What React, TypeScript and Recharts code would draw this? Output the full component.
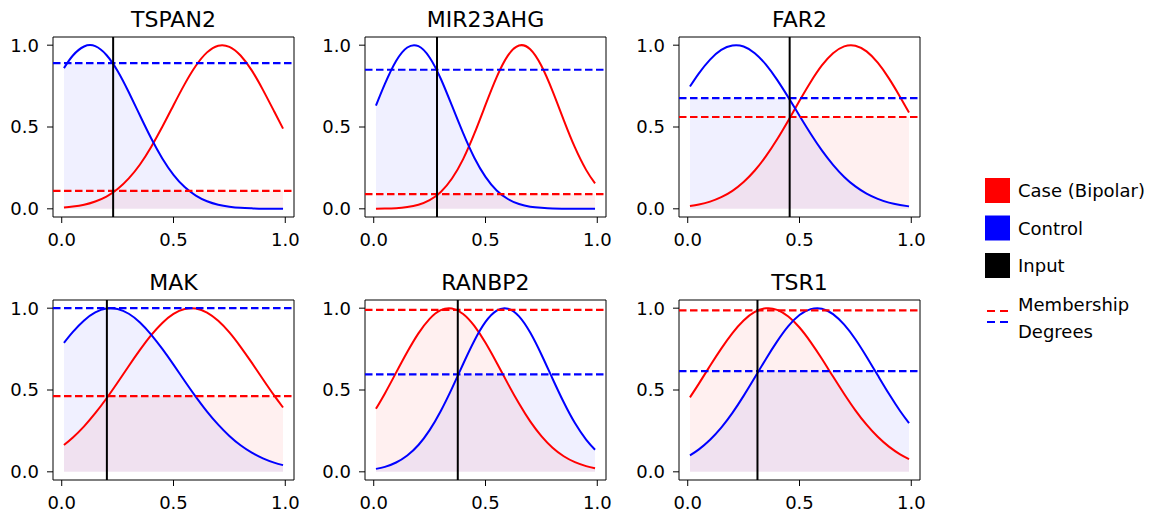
import React from 'react';
import { ComposedChart, Line, Area, XAxis, YAxis, ReferenceLine, ReferenceArea } from 'recharts';

// sample positions along the normalised expression axis
const xs = [0.01, 0.05, 0.1, 0.15, 0.2, 0.25, 0.3, 0.35, 0.4, 0.45, 0.5, 0.55, 0.6, 0.65, 0.7, 0.75, 0.8, 0.85, 0.9, 0.95, 0.99];

// membership curves
const tspan2Case = [0.008, 0.014, 0.025, 0.045, 0.075, 0.121, 0.186, 0.271, 0.378, 0.501, 0.633, 0.762, 0.874, 0.956, 0.997, 0.99, 0.937, 0.846, 0.727, 0.596, 0.49];
const tspan2Control = [0.86, 0.937, 0.992, 0.994, 0.94, 0.842, 0.712, 0.57, 0.431, 0.308, 0.208, 0.133, 0.081, 0.046, 0.025, 0.013, 0.006, 0.003, 0.001, 0.0005, 0.0002];
const mir23ahgCase = [0.0006, 0.0015, 0.004, 0.011, 0.025, 0.053, 0.103, 0.185, 0.304, 0.459, 0.635, 0.805, 0.936, 0.998, 0.975, 0.874, 0.719, 0.542, 0.375, 0.238, 0.155];
const mir23ahgControl = [0.63, 0.763, 0.903, 0.986, 0.994, 0.925, 0.795, 0.63, 0.462, 0.312, 0.195, 0.112, 0.06, 0.029, 0.013, 0.006, 0.002, 0.001, 0.0003, 0.0001, 0];
const far2Case = [0.017, 0.027, 0.044, 0.071, 0.11, 0.164, 0.234, 0.322, 0.425, 0.54, 0.66, 0.775, 0.876, 0.951, 0.993, 0.997, 0.962, 0.893, 0.797, 0.684, 0.588];
const far2Control = [0.747, 0.828, 0.912, 0.971, 0.998, 0.992, 0.951, 0.881, 0.788, 0.681, 0.569, 0.459, 0.357, 0.269, 0.195, 0.137, 0.093, 0.061, 0.038, 0.024, 0.015];
const makCase = [0.164, 0.21, 0.278, 0.358, 0.448, 0.546, 0.647, 0.745, 0.835, 0.91, 0.965, 0.995, 0.998, 0.973, 0.923, 0.852, 0.764, 0.667, 0.566, 0.467, 0.393];
const makControl = [0.788, 0.855, 0.925, 0.974, 0.998, 0.995, 0.966, 0.913, 0.839, 0.751, 0.655, 0.555, 0.458, 0.368, 0.288, 0.219, 0.162, 0.117, 0.082, 0.056, 0.041];
const ranbp2Case = [0.385, 0.479, 0.606, 0.732, 0.846, 0.935, 0.988, 0.998, 0.965, 0.892, 0.789, 0.667, 0.539, 0.417, 0.308, 0.218, 0.147, 0.095, 0.059, 0.035, 0.022];
const ranbp2Control = [0.018, 0.03, 0.057, 0.1, 0.164, 0.255, 0.372, 0.51, 0.659, 0.801, 0.916, 0.985, 0.997, 0.95, 0.851, 0.717, 0.569, 0.425, 0.298, 0.197, 0.135];
const tsr1Case = [0.455, 0.539, 0.648, 0.753, 0.848, 0.925, 0.977, 0.999, 0.99, 0.949, 0.882, 0.793, 0.691, 0.582, 0.476, 0.376, 0.288, 0.214, 0.154, 0.107, 0.078];
const tsr1Control = [0.1, 0.137, 0.196, 0.27, 0.36, 0.464, 0.576, 0.69, 0.797, 0.89, 0.958, 0.994, 0.997, 0.964, 0.899, 0.81, 0.703, 0.59, 0.477, 0.372, 0.298];

const titles = ['TSPAN2', 'MIR23AHG', 'FAR2', 'MAK', 'RANBP2', 'TSR1'];
const inputs = [0.23, 0.283, 0.456, 0.202, 0.376, 0.312];
const caseDegrees = [0.11, 0.09, 0.561, 0.463, 0.99, 0.986];
const controlDegrees = [0.89, 0.85, 0.676, 1.0, 0.596, 0.615];
const caseCurves = [tspan2Case, mir23ahgCase, far2Case, makCase, ranbp2Case, tsr1Case];
const controlCurves = [tspan2Control, mir23ahgControl, far2Control, makControl, ranbp2Control, tsr1Control];
const xTicks = [0, 0.5, 1];
const yTicks = [0, 0.5, 1];

const legendItems = ['Case (Bipolar)', 'Control', 'Input'];
const legendColors = ['#ff0000', '#0000ff', '#000000'];

const FONT = '"DejaVu Sans", sans-serif';
const RED = '#ff0000';
const BLUE = '#0000ff';
const colLefts = [53, 365, 679];
const rowTops = [37, 300];
const PLOT_W = 241;
const PLOT_H = 180;
const Y_W = 53;
const X_H = 40;
const PAD = 2;
const RIGHT = 24;
const DASH = '7.5 3.5';

function Panel({ i }: { i: number }) {
  const data = xs.map((x, k) => ({
    x,
    case: caseCurves[i][k],
    control: controlCurves[i][k],
    caseFill: Math.min(caseCurves[i][k], caseDegrees[i]),
    controlFill: Math.min(controlCurves[i][k], controlDegrees[i]),
  }));
  const tickStyle = { fontSize: 18, fill: '#000', fontFamily: FONT };
  return (
    <div style={{ position: 'absolute', left: colLefts[i % 3] - Y_W, top: rowTops[Math.floor(i / 3)] - PAD }}>
      <ComposedChart
        width={Y_W + PLOT_W + RIGHT}
        height={PAD + PLOT_H + X_H}
        data={data}
        margin={{ top: PAD, right: RIGHT, left: 0, bottom: 0 }}
      >
        <XAxis
          dataKey="x"
          type="number"
          domain={[-0.039, 1.039]}
          allowDataOverflow
          ticks={xTicks}
          interval={0}
          tickFormatter={(v: number) => v.toFixed(1)}
          height={X_H}
          tickSize={6}
          tickMargin={10}
          axisLine={false}
          tickLine={{ stroke: '#000' }}
          tick={tickStyle}
        />
        <YAxis
          type="number"
          domain={[-0.05, 1.05]}
          allowDataOverflow
          ticks={yTicks}
          interval={0}
          tickFormatter={(v: number) => v.toFixed(1)}
          width={Y_W}
          tickSize={6}
          tickMargin={8}
          axisLine={false}
          tickLine={{ stroke: '#000' }}
          tick={tickStyle}
        />
        <Area dataKey="controlFill" type="monotone" baseValue={0} fill={BLUE} fillOpacity={0.06} stroke="none" isAnimationActive={false} />
        <Area dataKey="caseFill" type="monotone" baseValue={0} fill={RED} fillOpacity={0.06} stroke="none" isAnimationActive={false} />
        <Line dataKey="case" type="natural" stroke={RED} strokeWidth={2} dot={false} isAnimationActive={false} />
        <Line dataKey="control" type="natural" stroke={BLUE} strokeWidth={2} dot={false} isAnimationActive={false} />
        <ReferenceLine y={caseDegrees[i]} stroke={RED} strokeWidth={2.2} strokeDasharray={DASH} />
        <ReferenceLine y={controlDegrees[i]} stroke={BLUE} strokeWidth={2.2} strokeDasharray={DASH} />
        <ReferenceLine x={inputs[i]} stroke="#000" strokeWidth={2} />
        <ReferenceArea x1={-0.039} x2={1.039} y1={-0.05} y2={1.05} fill="none" fillOpacity={0} stroke="#000" strokeWidth={1} />
      </ComposedChart>
    </div>
  );
}

export default function App() {
  return (
    <div style={{ position: 'absolute', left: 0, top: 0, width: 1165, height: 514, background: '#fff', fontFamily: FONT }}>
      {titles.map((t, i) => (
        <Panel key={t} i={i} />
      ))}
      <svg width={1165} height={514} style={{ position: 'absolute', left: 0, top: 0, pointerEvents: 'none' }}>
        {titles.map((t, i) => (
          <text
            key={t}
            x={colLefts[i % 3] + PLOT_W / 2}
            y={rowTops[Math.floor(i / 3)] - 10}
            textAnchor="middle"
            fontSize={22}
            fontFamily={FONT}
            fill="#000"
          >
            {t}
          </text>
        ))}
        {legendItems.map((label, k) => (
          <g key={label}>
            <rect x={985} y={178 + k * 37.5} width={25} height={25} fill={legendColors[k]} />
            <text x={1018} y={197 + k * 37.5} fontSize={18} fontFamily={FONT} fill="#000">
              {label}
            </text>
          </g>
        ))}
        <line x1={987} x2={1010} y1={311} y2={311} stroke={RED} strokeWidth={2} strokeDasharray="8 5" />
        <line x1={987} x2={1010} y1={322} y2={322} stroke={BLUE} strokeWidth={2} strokeDasharray="8 5" />
        <text x={1018} y={311} fontSize={18} fontFamily={FONT} fill="#000">Membership</text>
        <text x={1018} y={338} fontSize={18} fontFamily={FONT} fill="#000">Degrees</text>
      </svg>
    </div>
  );
}
